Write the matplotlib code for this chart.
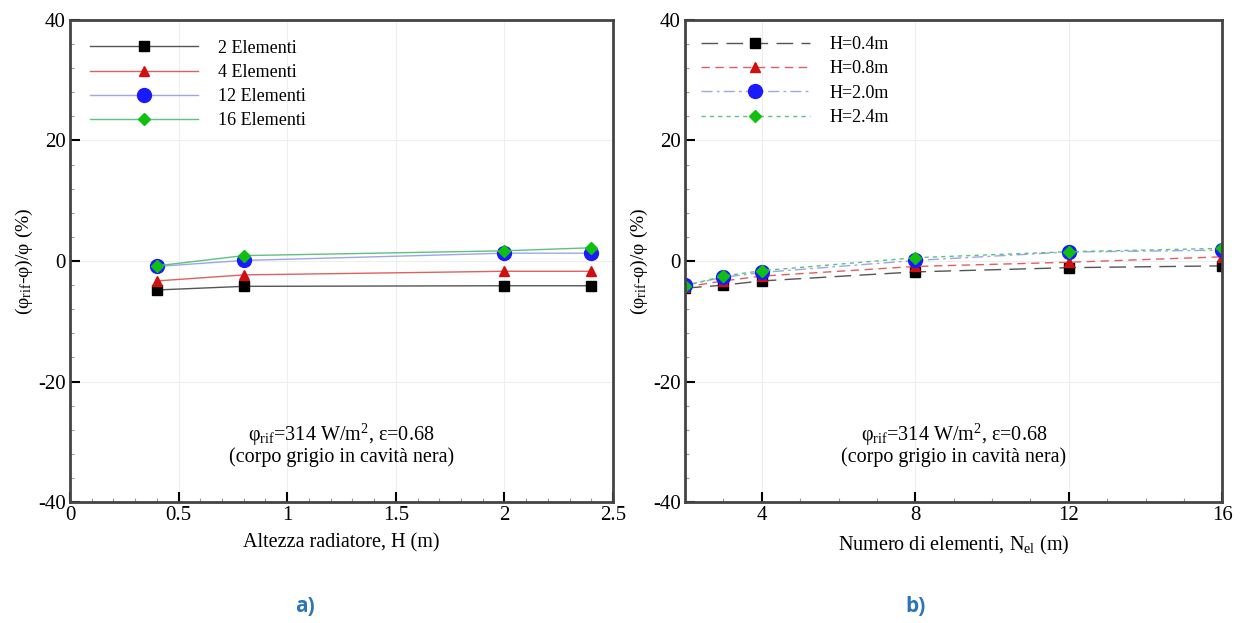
import numpy as np
import matplotlib
matplotlib.use('Agg')
import matplotlib.pyplot as plt
from matplotlib.ticker import MultipleLocator

plt.rcParams['font.family'] = ['Liberation Serif', 'DejaVu Serif']
plt.rcParams['mathtext.fontset'] = 'custom'
plt.rcParams['mathtext.rm'] = 'Liberation Serif'
plt.rcParams['mathtext.it'] = 'Liberation Serif:italic'
plt.rcParams['axes.unicode_minus'] = False

# Panel a) - varying height, one curve per number of elements
heights = [0.4, 0.8, 2.0, 2.4]
series_a = {
    '2 Elementi': [-4.8, -4.2, -4.1, -4.1],
    '4 Elementi': [-3.3, -2.3, -1.7, -1.7],
    '12 Elementi': [-0.9, 0.1, 1.3, 1.3],
    '16 Elementi': [-0.8, 0.9, 1.7, 2.2],
}

# Panel b) - varying number of elements, one curve per height
n_elements = [2, 3, 4, 8, 12, 16]
series_b = {
    'H=0.4m': [-4.5, -4.0, -3.3, -1.8, -1.1, -0.8],
    'H=0.8m': [-4.3, -3.3, -2.5, -0.9, -0.2, 0.7],
    'H=2.0m': [-4.0, -2.7, -1.9, 0.1, 1.5, 1.8],
    'H=2.4m': [-4.1, -2.5, -1.6, 0.55, 1.55, 2.1],
}

colors = ['black', '#d01010', '#1a1aff', '#10c010']
line_colors = ['#555555', '#e06060', '#9aa8e8', '#60c080']
markers = ['s', '^', 'o', 'D']
msizes = [7, 7, 10, 6.5]
dashes_b = [(12, 6), (6, 4), (8, 3, 2, 3), (3, 3)]

fig = plt.figure(figsize=(12.41, 6.23), dpi=100)
ax1 = fig.add_axes([0.0564, 0.194, 0.4376, 0.774])
ax2 = fig.add_axes([0.552, 0.194, 0.433, 0.774])


def style_axis(ax):
    ax.set_ylim(-40, 40)
    ax.yaxis.set_major_locator(MultipleLocator(20))
    ax.yaxis.set_minor_locator(MultipleLocator(4))
    ax.tick_params(which='both', direction='in', top=False, right=False)
    ax.tick_params(which='major', length=7, width=1.5, labelsize=15, pad=3)
    ax.tick_params(which='minor', length=3, width=0.8, color='#999999')
    ax.grid(True, which='major', color='#eeeeee', linewidth=0.8)
    for s in ax.spines.values():
        s.set_linewidth(2)
        s.set_color('#444444')
    ax.set_ylabel(r'(φ$_{\mathrm{rif}}$-φ)/φ (%)', fontsize=14, labelpad=2)
    ax.text(0.5, 0.072, 'φ$_{\\mathrm{rif}}$=314 W/m$^2$, ε=0.68\n(corpo grigio in cavità nera)',
            transform=ax.transAxes, ha='center', va='bottom', fontsize=14.5, linespacing=0.95)


# panel a
for (name, vals), c, lc, m, ms in zip(series_a.items(), colors, line_colors, markers, msizes):
    ax1.plot(heights, vals, color=lc, linewidth=1.0, marker=m, markersize=ms,
             markerfacecolor=c, markeredgecolor=c, label=name)
ax1.set_xlim(0, 2.5)
ax1.xaxis.set_major_locator(MultipleLocator(0.5))
ax1.xaxis.set_minor_locator(MultipleLocator(0.1))
ax1.xaxis.set_major_formatter(matplotlib.ticker.FuncFormatter(lambda v, p: f'{v:g}'))
style_axis(ax1)
ax1.set_xlabel('Altezza radiatore, H (m)', fontsize=14.5, labelpad=6)
ax1.legend(loc='upper left', frameon=False, fontsize=13, handlelength=6,
           borderaxespad=0.7, labelspacing=0.4, handletextpad=1.1)

# panel b
for (name, vals), c, lc, m, ms, d in zip(series_b.items(), colors, line_colors, markers, msizes, dashes_b):
    ax2.plot(n_elements, vals, color=lc, linewidth=1.0, dashes=d, marker=m, markersize=ms,
             markerfacecolor=c, markeredgecolor=c, label=name)
ax2.set_xlim(2, 16)
ax2.set_xticks([4, 8, 12, 16])
ax2.xaxis.set_minor_locator(MultipleLocator(1))
style_axis(ax2)
ax2.set_xlabel(r'Numero di elementi, N$_{\mathrm{el}}$ (m)', fontsize=14.5, labelpad=6)
ax2.legend(loc='upper left', frameon=False, fontsize=13, handlelength=6,
           borderaxespad=0.5, labelspacing=0.4, handletextpad=1.1)

fig.text(0.246, 0.01, 'a)', color='#2e75b6', fontsize=15, fontweight='bold',
         ha='center', va='bottom', family=['Open Sans', 'DejaVu Sans'])
fig.text(0.738, 0.01, 'b)', color='#2e75b6', fontsize=15, fontweight='bold',
         ha='center', va='bottom', family=['Open Sans', 'DejaVu Sans'])

fig.savefig('out.png', dpi=100)
